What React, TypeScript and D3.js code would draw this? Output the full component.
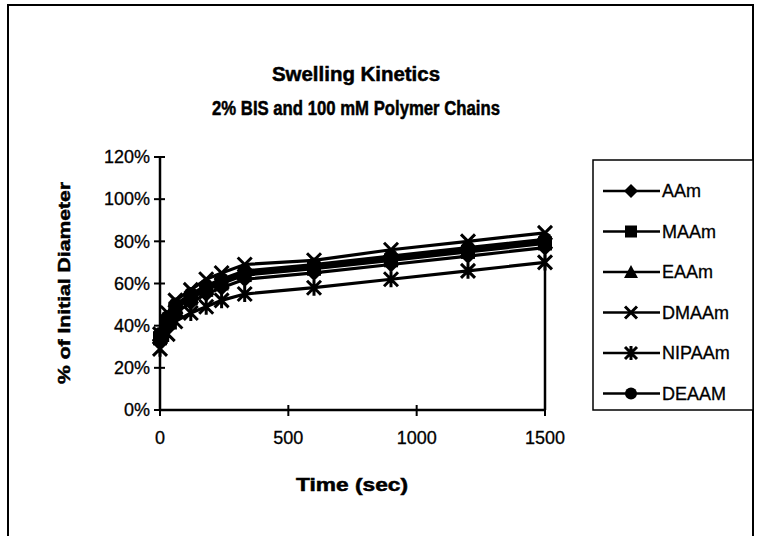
import React from "react";
import * as d3 from "d3";

const times = [0, 30, 60, 120, 180, 240, 330, 600, 900, 1200, 1500];
const seriesNames = ["AAm", "MAAm", "EAAm", "DMAAm", "NIPAAm", "DEAAM"];
const seriesMarkers = ["diamond", "square", "triangle", "cross", "star", "circle"];
const aam = [33, 40, 46, 51, 55, 58, 62, 65, 69, 73, 77];
const maam = [34, 42, 48, 53, 57, 60, 64, 67, 71, 75, 79];
const eaam = [35, 43, 49, 54, 58, 61, 65, 68, 72, 76, 80];
const dmaam = [36, 46, 52, 57, 62, 65, 69, 71, 76, 80, 84];
const nipaam = [29, 36, 42, 46, 49, 52, 55, 58, 62, 66, 70];
const deaam = [36, 44, 50, 55, 59, 62, 66, 69, 73, 77, 81];
const seriesValues = [aam, maam, eaam, dmaam, nipaam, deaam];
const xTicks = [0, 500, 1000, 1500];
const yTicks = [0, 20, 40, 60, 80, 100, 120];

const FONT = "'Liberation Sans', Arial, sans-serif";

function Marker({ type, x, y, s = 6 }: { type: string; x: number; y: number; s?: number }) {
  if (type === "diamond")
    return <path d={`M${x},${y - s - 1}L${x + s + 1},${y}L${x},${y + s + 1}L${x - s - 1},${y}Z`} fill="#000" />;
  if (type === "square") return <rect x={x - s} y={y - s} width={2 * s} height={2 * s} fill="#000" />;
  if (type === "triangle")
    return <path d={`M${x},${y - s - 1}L${x + s + 1},${y + s}L${x - s - 1},${y + s}Z`} fill="#000" />;
  if (type === "circle") return <circle cx={x} cy={y} r={s} fill="#000" />;
  if (type === "cross")
    return (
      <path d={`M${x - s},${y - s}L${x + s},${y + s}M${x - s},${y + s}L${x + s},${y - s}`} stroke="#000" strokeWidth={3} />
    );
  return (
    <path
      d={`M${x - s},${y - s}L${x + s},${y + s}M${x - s},${y + s}L${x + s},${y - s}M${x},${y - s - 1}L${x},${y + s + 1}`}
      stroke="#000"
      strokeWidth={3}
    />
  );
}

export default function App() {
  const W = 761, H = 536;
  const x = d3.scaleLinear().domain([0, 1500]).range([160, 545]);
  const y = d3.scaleLinear().domain([0, 120]).range([410, 157]);
  const line = d3
    .line<number>()
    .x((_, i) => x(times[i]))
    .y((d) => y(d));
  const maxEnd = d3.max(seriesValues, (s) => s[s.length - 1]) as number;
  const legX = 593, legY = 160, legW = 160, legH = 250;
  const heavy = { stroke: "#000", strokeWidth: 0.5 };
  return (
    <svg width={W} height={H} style={{ position: "absolute", left: 0, top: 0, background: "#fff" }}>
      <rect x={8} y={5} width={745} height={540} fill="none" stroke="#000" strokeWidth={2} />
      <text x={356} y={81} textAnchor="middle" fontFamily={FONT} fontWeight="bold" fontSize={20}
        textLength={168} lengthAdjust="spacingAndGlyphs" {...heavy}>
        Swelling Kinetics
      </text>
      <text x={356} y={115} textAnchor="middle" fontFamily={FONT} fontWeight="bold" fontSize={20}
        textLength={288} lengthAdjust="spacingAndGlyphs" {...heavy}>
        2% BIS and 100 mM Polymer Chains
      </text>
      <line x1={x(0)} x2={x(0)} y1={y(120)} y2={y(0)} stroke="#000" strokeWidth={2.5} />
      <line x1={x(0)} x2={x(1500)} y1={y(0)} y2={y(0)} stroke="#000" strokeWidth={2.5} />
      <line x1={x(1500)} x2={x(1500)} y1={y(maxEnd)} y2={y(0)} stroke="#000" strokeWidth={2.5} />
      {yTicks.map((t) => (
        <g key={"y" + t}>
          <line x1={x(0) - 6} x2={x(0) + 5} y1={y(t)} y2={y(t)} stroke="#000" strokeWidth={2} />
          <text x={150} y={y(t)} dy="0.35em" textAnchor="end" fontFamily={FONT} fontSize={18} stroke="#000" strokeWidth={0.3}>
            {t}%
          </text>
        </g>
      ))}
      {xTicks.map((t) => (
        <g key={"x" + t}>
          <line x1={x(t)} x2={x(t)} y1={y(0) - 5} y2={y(0) + 6} stroke="#000" strokeWidth={2} />
          <text x={x(t)} y={444} textAnchor="middle" fontFamily={FONT} fontSize={18} stroke="#000" strokeWidth={0.3}>
            {t}
          </text>
        </g>
      ))}
      <text x={352} y={491} textAnchor="middle" fontFamily={FONT} fontWeight="bold" fontSize={18}
        textLength={112} lengthAdjust="spacingAndGlyphs" {...heavy}>
        Time (sec)
      </text>
      <text
        transform={`translate(70,283) rotate(-90)`}
        textAnchor="middle"
        fontFamily={FONT}
        fontWeight="bold"
        fontSize={17}
        textLength={202}
        lengthAdjust="spacingAndGlyphs"
        {...heavy}
      >
        % of Initial Diameter
      </text>
      {seriesValues.map((vals, si) => (
        <g key={seriesNames[si]}>
          <path d={line(vals) || ""} fill="none" stroke="#000" strokeWidth={3.2} />
          {vals.map((v, i) => (
            <Marker key={i} type={seriesMarkers[si]} x={x(times[i])} y={y(v)} s={7} />
          ))}
        </g>
      ))}
      <rect x={legX} y={legY} width={legW} height={legH} fill="#fff" stroke="#000" strokeWidth={1.5} />
      {seriesNames.map((n, i) => {
        const ly = 191 + i * 40.5;
        return (
          <g key={"l" + n}>
            <line x1={603} x2={660} y1={ly} y2={ly} stroke="#000" strokeWidth={2.5} />
            <Marker type={seriesMarkers[i]} x={631} y={ly} s={6} />
            <text x={662} y={ly} dy="0.36em" fontFamily={FONT} fontSize={18} stroke="#000" strokeWidth={0.3}>
              {n}
            </text>
          </g>
        );
      })}
    </svg>
  );
}
